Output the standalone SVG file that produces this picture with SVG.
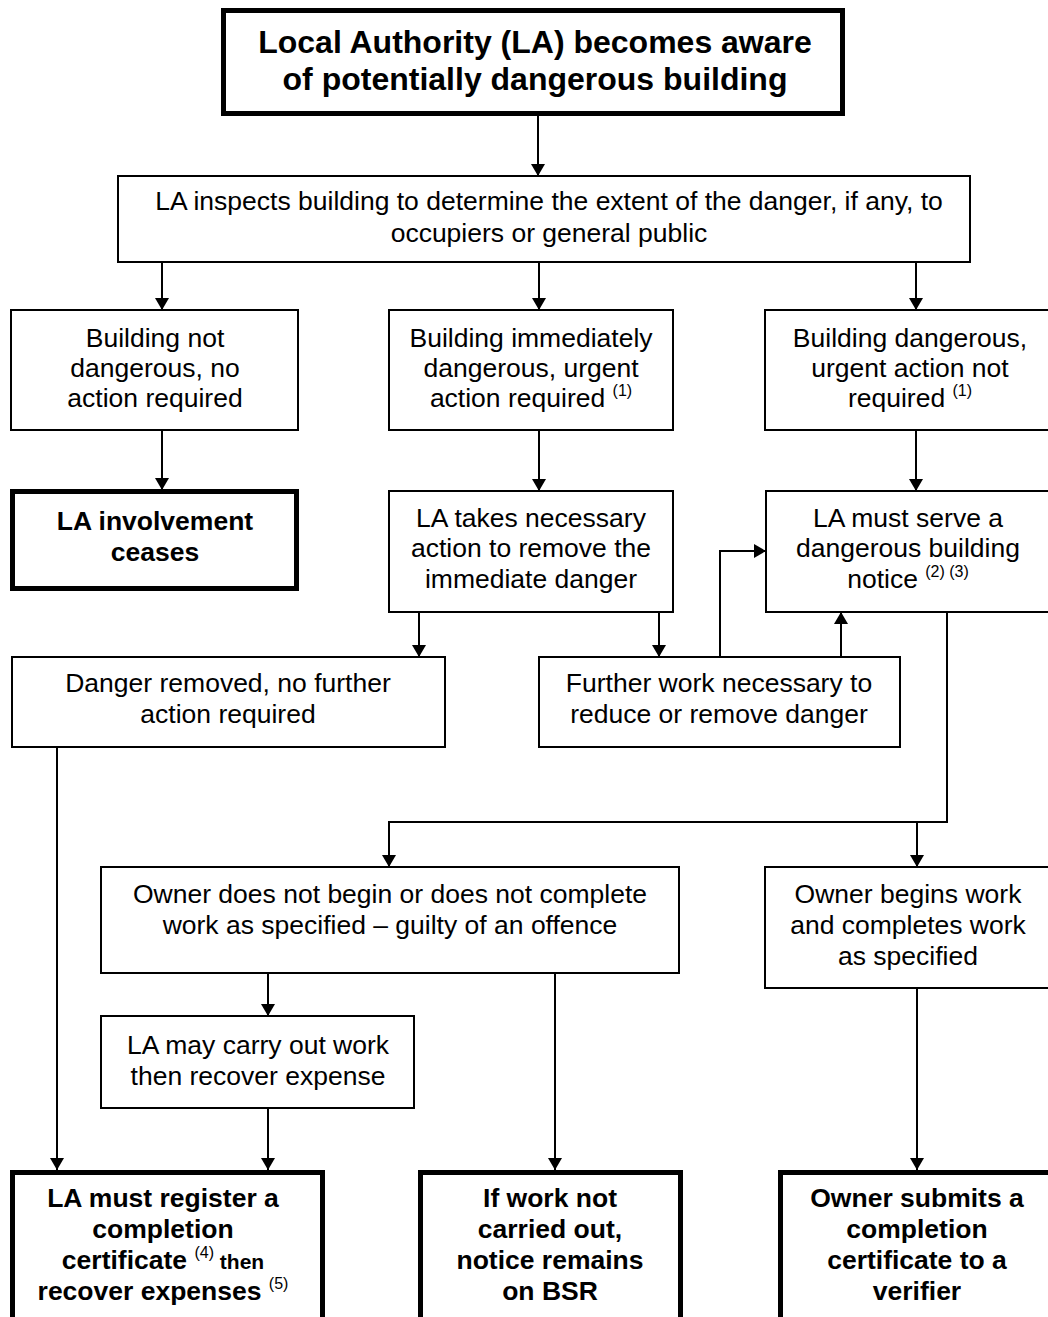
<svg xmlns="http://www.w3.org/2000/svg" width="1048" height="1317" viewBox="0 0 1048 1317">
  <defs>
    <marker id="arrow" viewBox="0 0 12 14" refX="12" refY="7" markerWidth="12" markerHeight="14" markerUnits="userSpaceOnUse" orient="auto">
      <path d="M0,0 L12,7 L0,14 Z" fill="#000"/>
    </marker>
  </defs>
  <style>
    .box { fill: #fff; stroke: #000; stroke-width: 2; }
    .thick { fill: #fff; stroke: #000; stroke-width: 5; }
    .t { font-family: "Liberation Sans", Arial, sans-serif; font-size: 26.5px; fill: #000; text-anchor: middle; }
    .b { font-family: "Liberation Sans", Arial, sans-serif; font-size: 26.5px; font-weight: bold; fill: #000; text-anchor: middle; }
    .h { font-family: "Liberation Sans", Arial, sans-serif; font-size: 32px; font-weight: bold; fill: #000; text-anchor: middle; }
    .sup { font-size: 16px; font-weight: normal; }
    .small { font-size: 21px; }
    .link { fill: none; stroke: #000; stroke-width: 2; }
    .arr { marker-end: url(#arrow); }
  </style>

  <rect width="1048" height="1317" fill="#fff"/>

  <!-- connectors -->
  <g id="connectors">
    <path class="link arr" d="M538,115 V176"/>
    <path class="link arr" d="M162,262 V310"/>
    <path class="link arr" d="M539,262 V310"/>
    <path class="link arr" d="M916,262 V310"/>
    <path class="link arr" d="M162,430 V490"/>
    <path class="link arr" d="M539,430 V491"/>
    <path class="link arr" d="M916,430 V491"/>
    <path class="link arr" d="M419,612 V657"/>
    <path class="link arr" d="M659,612 V657"/>
    <path class="link arr" d="M720,657 V551 H766"/>
    <path class="link arr" d="M841,657 V612"/>
    <path class="link" d="M947,612 V822 H389"/>
    <path class="link arr" d="M389,821 V867"/>
    <path class="link arr" d="M917,822 V867"/>
    <path class="link arr" d="M57,747 V1170"/>
    <path class="link arr" d="M268,973 V1016"/>
    <path class="link arr" d="M268,1108 V1170"/>
    <path class="link arr" d="M555,973 V1170"/>
    <path class="link arr" d="M917,988 V1170"/>
  </g>

  <!-- start -->
  <g id="node-aware">
    <rect class="thick" x="223.5" y="10.5" width="619" height="103"/>
    <text class="h" x="535" y="53">Local Authority (LA) becomes aware</text>
    <text class="h" x="535" y="90">of potentially dangerous building</text>
  </g>

  <g id="node-inspect">
    <rect class="box" x="118" y="176" width="852" height="86"/>
    <text class="t" x="549" y="210">LA inspects building to determine the extent of the danger, if any, to</text>
    <text class="t" x="549" y="242">occupiers or general public</text>
  </g>

  <g id="node-not-dangerous">
    <rect class="box" x="11" y="310" width="287" height="120"/>
    <text class="t" x="155" y="347">Building not</text>
    <text class="t" x="155" y="377">dangerous, no</text>
    <text class="t" x="155" y="407">action required</text>
  </g>

  <g id="node-immediate">
    <rect class="box" x="389" y="310" width="284" height="120"/>
    <text class="t" x="531" y="347">Building immediately</text>
    <text class="t" x="531" y="377">dangerous, urgent</text>
    <text class="t" x="531" y="407">action required <tspan class="sup" dy="-11">(1)</tspan></text>
  </g>

  <g id="node-not-urgent">
    <rect class="box" x="765" y="310" width="290" height="120"/>
    <text class="t" x="910" y="347">Building dangerous,</text>
    <text class="t" x="910" y="377">urgent action not</text>
    <text class="t" x="910" y="407">required <tspan class="sup" dy="-11">(1)</tspan></text>
  </g>

  <g id="node-ceases">
    <rect class="thick" x="12.5" y="491.5" width="284" height="97"/>
    <text class="b" x="155" y="530">LA involvement</text>
    <text class="b" x="155" y="561">ceases</text>
  </g>

  <g id="node-la-action">
    <rect class="box" x="389" y="491" width="284" height="121"/>
    <text class="t" x="531" y="527">LA takes necessary</text>
    <text class="t" x="531" y="557">action to remove the</text>
    <text class="t" x="531" y="588">immediate danger</text>
  </g>

  <g id="node-notice">
    <rect class="box" x="766" y="491" width="289" height="121"/>
    <text class="t" x="908" y="527">LA must serve a</text>
    <text class="t" x="908" y="557">dangerous building</text>
    <text class="t" x="908" y="588">notice <tspan class="sup" dy="-11">(2) (3)</tspan></text>
  </g>

  <g id="node-removed">
    <rect class="box" x="12" y="657" width="433" height="90"/>
    <text class="t" x="228" y="692">Danger removed, no further</text>
    <text class="t" x="228" y="723">action required</text>
  </g>

  <g id="node-further">
    <rect class="box" x="539" y="657" width="361" height="90"/>
    <text class="t" x="719" y="692">Further work necessary to</text>
    <text class="t" x="719" y="723">reduce or remove danger</text>
  </g>

  <g id="node-offence">
    <rect class="box" x="101" y="867" width="578" height="106"/>
    <text class="t" x="390" y="903">Owner does not begin or does not complete</text>
    <text class="t" x="390" y="934">work as specified – guilty of an offence</text>
  </g>

  <g id="node-owner-completes">
    <rect class="box" x="765" y="867" width="290" height="121"/>
    <text class="t" x="908" y="903">Owner begins work</text>
    <text class="t" x="908" y="934">and completes work</text>
    <text class="t" x="908" y="965">as specified</text>
  </g>

  <g id="node-la-work">
    <rect class="box" x="101" y="1016" width="313" height="92"/>
    <text class="t" x="258" y="1054">LA may carry out work</text>
    <text class="t" x="258" y="1085">then recover expense</text>
  </g>

  <g id="node-register">
    <rect class="thick" x="12.5" y="1172.5" width="310" height="160"/>
    <text class="b" x="163" y="1207">LA must register a</text>
    <text class="b" x="163" y="1238">completion</text>
    <text class="b" x="163" y="1269">certificate <tspan class="sup" dy="-11">(4)</tspan><tspan class="small" dy="11"> then</tspan></text>
    <text class="b" x="163" y="1300">recover expenses <tspan class="sup" dy="-11">(5)</tspan></text>
  </g>

  <g id="node-bsr">
    <rect class="thick" x="420.5" y="1172.5" width="260" height="160"/>
    <text class="b" x="550" y="1207">If work not</text>
    <text class="b" x="550" y="1238">carried out,</text>
    <text class="b" x="550" y="1269">notice remains</text>
    <text class="b" x="550" y="1300">on BSR</text>
  </g>

  <g id="node-verifier">
    <rect class="thick" x="780.5" y="1172.5" width="280" height="160"/>
    <text class="b" x="917" y="1207">Owner submits a</text>
    <text class="b" x="917" y="1238">completion</text>
    <text class="b" x="917" y="1269">certificate to a</text>
    <text class="b" x="917" y="1300">verifier</text>
  </g>
</svg>
